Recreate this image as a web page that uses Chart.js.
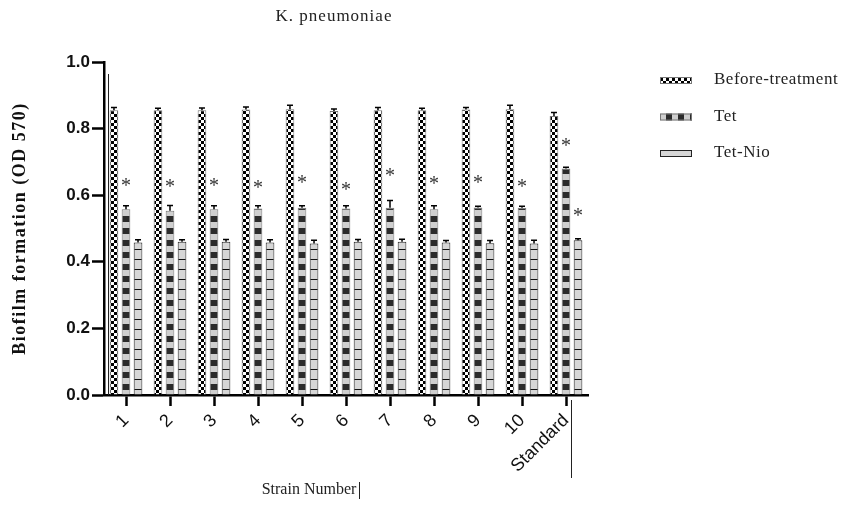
<!DOCTYPE html>
<html>
<head>
<meta charset="utf-8">
<script src="https://cdn.jsdelivr.net/npm/chart.js@4.4.1/dist/chart.umd.min.js"></script>
<style>
  body { margin: 0; background: #fff; }
  #c { display: block; }
</style>
</head>
<body>
<canvas id="c" width="847" height="514"></canvas>
<script>
// biofilm OD570 per strain
const strains = ['1', '2', '3', '4', '5', '6', '7', '8', '9', '10', 'Standard'];
const before = [0.855, 0.855, 0.855, 0.857, 0.858, 0.853, 0.855, 0.855, 0.857, 0.858, 0.838];
const beforeErr = [0.008, 0.006, 0.007, 0.008, 0.012, 0.006, 0.008, 0.006, 0.006, 0.012, 0.01];
const tet = [0.558, 0.553, 0.558, 0.560, 0.562, 0.560, 0.562, 0.558, 0.563, 0.562, 0.680];
const tetErr = [0.01, 0.016, 0.01, 0.008, 0.006, 0.008, 0.022, 0.01, 0.004, 0.005, 0.004];
const tetNio = [0.458, 0.460, 0.460, 0.458, 0.455, 0.460, 0.460, 0.458, 0.456, 0.455, 0.465];
const tetNioErr = [0.008, 0.006, 0.007, 0.008, 0.01, 0.007, 0.008, 0.006, 0.008, 0.01, 0.004];
// where the significance stars sit (null = none)
const starTet = [0.637, 0.634, 0.637, 0.630, 0.645, 0.625, 0.667, 0.643, 0.645, 0.634, 0.757];
const starTetNio = [null, null, null, null, null, null, null, null, null, null, 0.547];

const canvas = document.getElementById('c');
const ctx = canvas.getContext('2d');

function makeTile(w, h, draw) {
  const t = document.createElement('canvas');
  t.width = w; t.height = h;
  draw(t.getContext('2d'));
  return ctx.createPattern(t, 'repeat');
}

const checker = makeTile(6, 6, g => {
  g.fillStyle = '#fff'; g.fillRect(0, 0, 6, 6);
  g.fillStyle = '#000';
  g.fillRect(0, 0, 3, 3); g.fillRect(3, 3, 3, 3);
});
const blocks = makeTile(8, 12, g => {
  g.fillStyle = '#cfcfcf'; g.fillRect(0, 0, 8, 12);
  g.fillStyle = '#2b2b2b'; g.fillRect(0, 0, 8, 6);
});
// same blocks turned sideways for the legend swatch
const blocksSide = makeTile(12, 8, g => {
  g.fillStyle = '#cfcfcf'; g.fillRect(0, 0, 12, 8);
  g.fillStyle = '#2b2b2b'; g.fillRect(6, 0, 6, 8);
});
const striped = makeTile(8, 10, g => {
  g.fillStyle = '#d6d6d6'; g.fillRect(0, 0, 8, 10);
  g.fillStyle = '#111'; g.fillRect(0, 9, 8, 1);
});

const errs = [beforeErr, tetErr, tetNioErr];

const extras = {
  id: 'extras',
  afterDatasetsDraw(chart) {
    const c = chart.ctx, y = chart.scales.y;
    c.save();
    // error whiskers (upper half only)
    c.strokeStyle = '#000';
    c.lineWidth = 1.5;
    chart.data.datasets.forEach((ds, i) => {
      chart.getDatasetMeta(i).data.forEach((bar, j) => {
        const top = y.getPixelForValue(ds.data[j] + errs[i][j]);
        c.beginPath();
        c.moveTo(bar.x, bar.y);
        c.lineTo(bar.x, top);
        c.moveTo(bar.x - 3, top);
        c.lineTo(bar.x + 3, top);
        c.stroke();
      });
    });
    // significance stars
    c.fillStyle = '#333';
    c.font = '20px "Liberation Serif"';
    c.textAlign = 'center';
    c.textBaseline = 'middle';
    const stars = [[1, starTet], [2, starTetNio]];
    stars.forEach(([i, arr]) => {
      chart.getDatasetMeta(i).data.forEach((bar, j) => {
        if (arr[j] == null) return;
        c.fillText('*', bar.x, y.getPixelForValue(arr[j]) + 4);
      });
    });
    c.restore();
  },
  afterDraw(chart) {
    const c = chart.ctx, a = chart.chartArea;
    c.save();
    c.fillStyle = '#222';
    c.textAlign = 'center';
    c.textBaseline = 'middle';
    c.letterSpacing = '1px';
    c.font = '17px "Liberation Serif"';
    c.fillText('K. pneumoniae', 334, 17);
    c.letterSpacing = '0px';
    c.font = '16px "Liberation Serif"';
    c.fillText('Strain Number', 309, 490);
    // y axis title, rotated
    c.save();
    c.translate(20, (a.top + a.bottom) / 2);
    c.rotate(-Math.PI / 2);
    c.fillStyle = '#111';
    c.letterSpacing = '1.5px';
    c.font = 'bold 18px "Liberation Serif"';
    c.fillText('Biofilm formation (OD 570)', 0, 0);
    c.restore();
    // thin inner line next to the y axis
    c.strokeStyle = '#222';
    c.lineWidth = 1;
    c.beginPath();
    c.moveTo(a.left + 4.5, a.top + 12);
    c.lineTo(a.left + 4.5, a.bottom);
    c.moveTo(571.5, 400);
    c.lineTo(571.5, 478);
    c.moveTo(359.5, 482);
    c.lineTo(359.5, 499);
    c.stroke();
    // legend
    const items = [['Before-treatment', checker, '#777'], ['Tet', blocksSide, '#777'], ['Tet-Nio', striped, '#222']];
    c.letterSpacing = '0.5px';
    items.forEach(([label, fill, edge], k) => {
      const yy = 80 + k * 36.5;
      c.fillStyle = k === 2 ? '#d6d6d6' : fill;
      c.fillRect(660, yy - 3, 32, 7);
      c.strokeStyle = edge;
      c.strokeRect(660.5, yy - 2.5, 31, 6);
      c.fillStyle = '#222';
      c.textAlign = 'left';
      c.font = '17px "Liberation Serif"';
      c.fillText(label, 714, yy);
    });
    c.restore();
  }
};

new Chart(canvas, {
  type: 'bar',
  data: {
    labels: strains,
    datasets: [
      { label: 'Before-treatment', data: before, backgroundColor: checker, borderColor: '#777', borderWidth: 1 },
      { label: 'Tet', data: tet, backgroundColor: blocks, borderColor: '#777', borderWidth: 1 },
      { label: 'Tet-Nio', data: tetNio, backgroundColor: striped, borderColor: '#222', borderWidth: 1 }
    ]
  },
  options: {
    responsive: false,
    animation: false,
    devicePixelRatio: 1,
    layout: { padding: { top: 62, right: 259, left: 0, bottom: 0 } },
    datasets: { bar: { categoryPercentage: 0.82, barPercentage: 0.72 } },
    plugins: { legend: { display: false }, tooltip: { enabled: false } },
    scales: {
      x: {
        afterFit(s) { s.height = 119; },
        grid: { offset: false, drawOnChartArea: false, drawTicks: true, tickLength: 11, tickWidth: 2.5, tickColor: '#000' },
        border: { display: true, color: '#000', width: 2.5 },
        ticks: {
          color: '#111', minRotation: 45, maxRotation: 45, padding: 4,
          font: { family: 'Liberation Sans', size: 18 }
        }
      },
      y: {
        min: 0, max: 1,
        afterFit(s) { s.width = 104; },
        grid: { drawOnChartArea: false, drawTicks: true, tickLength: 12, tickWidth: 2.5, tickColor: '#000' },
        border: { display: true, color: '#000', width: 2.5 },
        ticks: {
          stepSize: 0.2, color: '#111', padding: 2,
          font: { family: 'Liberation Sans', size: 17, weight: 'bold' },
          callback: v => v.toFixed(1)
        }
      }
    }
  },
  plugins: [extras]
});
</script>
</body>
</html>
